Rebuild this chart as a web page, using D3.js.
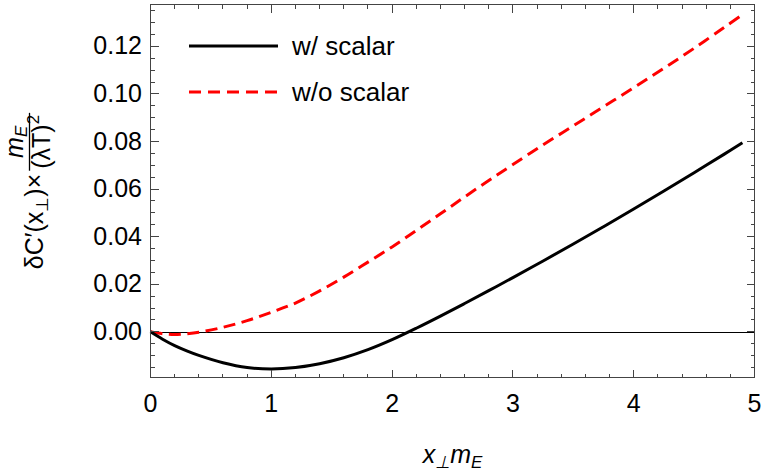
<!DOCTYPE html>
<html>
<head>
<meta charset="utf-8">
<script src="https://cdn.jsdelivr.net/npm/d3@7"></script>
<style>
  html, body { margin: 0; padding: 0; background: #fff; }
  svg { display: block; }
  text { font-family: "Liberation Sans", Arial, sans-serif; fill: #000; }
</style>
</head>
<body>
<svg id="chart" width="763" height="473"></svg>
<script>
// ---- data ----
const xValues = [0,0.1,0.2,0.3,0.4,0.6,0.8,1.0,1.2,1.4,1.6,1.8,2.0,2.2,2.4,2.6,2.8,3.0,3.25,3.5,3.75,4.0,4.25,4.5,4.75,4.9];
const withScalar = [0,-0.0031,-0.0058,-0.0080,-0.0099,-0.0130,-0.0150,-0.0156,-0.0150,-0.0134,-0.0109,-0.0075,-0.0033,0.0015,0.0066,0.0119,0.0173,0.0228,0.0298,0.0369,0.0442,0.0516,0.0592,0.0669,0.0747,0.0795];
const withoutScalar = [0,-0.0008,-0.0011,-0.0008,-0.0002,0.0019,0.0047,0.0082,0.0121,0.0172,0.0230,0.0293,0.0357,0.0426,0.0496,0.0567,0.0636,0.0703,0.0786,0.0866,0.0946,0.1026,0.1108,0.1192,0.1280,0.1333];
const seriesNames = ["w/ scalar", "w/o scalar"];
const xTicks = [0,1,2,3,4,5];
const yTicks = [0.00,0.02,0.04,0.06,0.08,0.10,0.12];

// ---- layout ----
const svg = d3.select("#chart");
const pL = 150.5, pR = 754.5, pT = 4.5, pB = 377.5;
const x = d3.scaleLinear().domain([0, 5]).range([pL, pR]);
const y = d3.scaleLinear().domain([-0.0192, 0.1376]).range([pB, pT]);
const frameColor = "#444";

// zero line
const y0 = Math.round(y(0)) + 0.5;
svg.append("line").attr("x1", pL).attr("x2", pR)
  .attr("y1", y0).attr("y2", y0).attr("stroke", "#000").attr("stroke-width", 1);

// curves
const line = d3.line().x(d => x(d[0])).y(d => y(d[1])).curve(d3.curveCatmullRom.alpha(0.5));
const blackData = xValues.map((v, i) => [v, withScalar[i]]);
const redData = xValues.map((v, i) => [v, withoutScalar[i]]);
svg.append("path").datum(redData).attr("d", line).attr("fill", "none")
  .attr("stroke", "#ff0000").attr("stroke-width", 3).attr("stroke-dasharray", "12,6.5");
svg.append("path").datum(blackData).attr("d", line).attr("fill", "none")
  .attr("stroke", "#000").attr("stroke-width", 3);

// frame with ticks
const gx = svg.append("g").attr("shape-rendering", "crispEdges");
const minorX = d3.range(0, 5.001, 0.2).map(v => +v.toFixed(2));
const minorY = d3.range(-0.015, 0.1376, 0.005).map(v => +v.toFixed(3));
function isMajor(v, arr) { return arr.some(a => Math.abs(a - v) < 1e-6); }
minorX.forEach(v => {
  const len = isMajor(v, xTicks) ? 8 : 4;
  gx.append("line").attr("x1", x(v)).attr("x2", x(v)).attr("y1", pB).attr("y2", pB - len).attr("stroke", frameColor);
  gx.append("line").attr("x1", x(v)).attr("x2", x(v)).attr("y1", pT).attr("y2", pT + len).attr("stroke", frameColor);
});
minorY.forEach(v => {
  const len = isMajor(v, yTicks) ? 8 : 4;
  gx.append("line").attr("x1", pL).attr("x2", pL + len).attr("y1", y(v)).attr("y2", y(v)).attr("stroke", frameColor);
  gx.append("line").attr("x1", pR).attr("x2", pR - len).attr("y1", y(v)).attr("y2", y(v)).attr("stroke", frameColor);
});
gx.append("rect").attr("x", pL).attr("y", pT).attr("width", pR - pL).attr("height", pB - pT)
  .attr("fill", "none").attr("stroke", frameColor).attr("stroke-width", 1);

// tick labels
svg.append("g").selectAll("text").data(xTicks).join("text")
  .attr("x", d => x(d)).attr("y", 412).attr("text-anchor", "middle")
  .attr("font-size", 25).text(d => d3.format("d")(d));
svg.append("g").selectAll("text").data(yTicks).join("text")
  .attr("x", 142).attr("y", d => y(d) + 8).attr("text-anchor", "end")
  .attr("font-size", 25).text(d => d3.format(".2f")(d));

// x label
const xl = svg.append("text").attr("x", (pL + pR) / 2).attr("y", 463)
  .attr("text-anchor", "middle").attr("font-size", 25).attr("font-style", "italic");
xl.append("tspan").text("x");
xl.append("tspan").attr("font-size", 17).attr("dy", 5).text("⊥");
xl.append("tspan").attr("dy", -5).text("m");
xl.append("tspan").attr("font-size", 17).attr("dy", 5).text("E");

// y label (rotated)
const yl = svg.append("g");
const main = yl.append("text").attr("font-size", 25).attr("y", 0);
main.append("tspan").text("δC′(x");
main.append("tspan").attr("font-size", 17).attr("dy", 5).text("⊥");
main.append("tspan").attr("dy", -5).text(")×");
const mainW = main.node().getComputedTextLength();
const num = yl.append("text").attr("font-size", 25).attr("font-style", "italic").attr("text-anchor", "middle").attr("y", -20);
num.append("tspan").text("m");
num.append("tspan").attr("font-size", 17).attr("dy", 4).text("E");
const den = yl.append("text").attr("font-size", 25).attr("text-anchor", "middle").attr("y", 7);
den.append("tspan").text("(λT)");
den.append("tspan").attr("font-size", 17).attr("dy", -11).text("2");
const fracW = Math.max(num.node().getComputedTextLength(), den.node().getComputedTextLength()) + 4;
const totalW = mainW + 3 + fracW;
const fracC = mainW + 3 + fracW / 2;
num.attr("x", fracC); den.attr("x", fracC);
yl.append("line").attr("x1", mainW + 3).attr("x2", mainW + 3 + fracW).attr("y1", -13.5).attr("y2", -13.5)
  .attr("stroke", "#000").attr("stroke-width", 1.3);
const cy = (pT + pB) / 2;
yl.attr("transform", `translate(43, ${cy + totalW / 2}) rotate(-90)`);

// legend
const legend = svg.append("g");
const legendY = [46, 92];
const legendStyles = [{c: "#000", dash: null}, {c: "#ff0000", dash: "12,7"}];
seriesNames.forEach((name, i) => {
  legend.append("line").attr("x1", 189).attr("x2", 278).attr("y1", legendY[i]).attr("y2", legendY[i])
    .attr("stroke", legendStyles[i].c).attr("stroke-width", 3).attr("stroke-dasharray", legendStyles[i].dash);
  legend.append("text").attr("x", 292).attr("y", legendY[i] + 9).attr("font-size", 26).text(name);
});
</script>
</body>
</html>
